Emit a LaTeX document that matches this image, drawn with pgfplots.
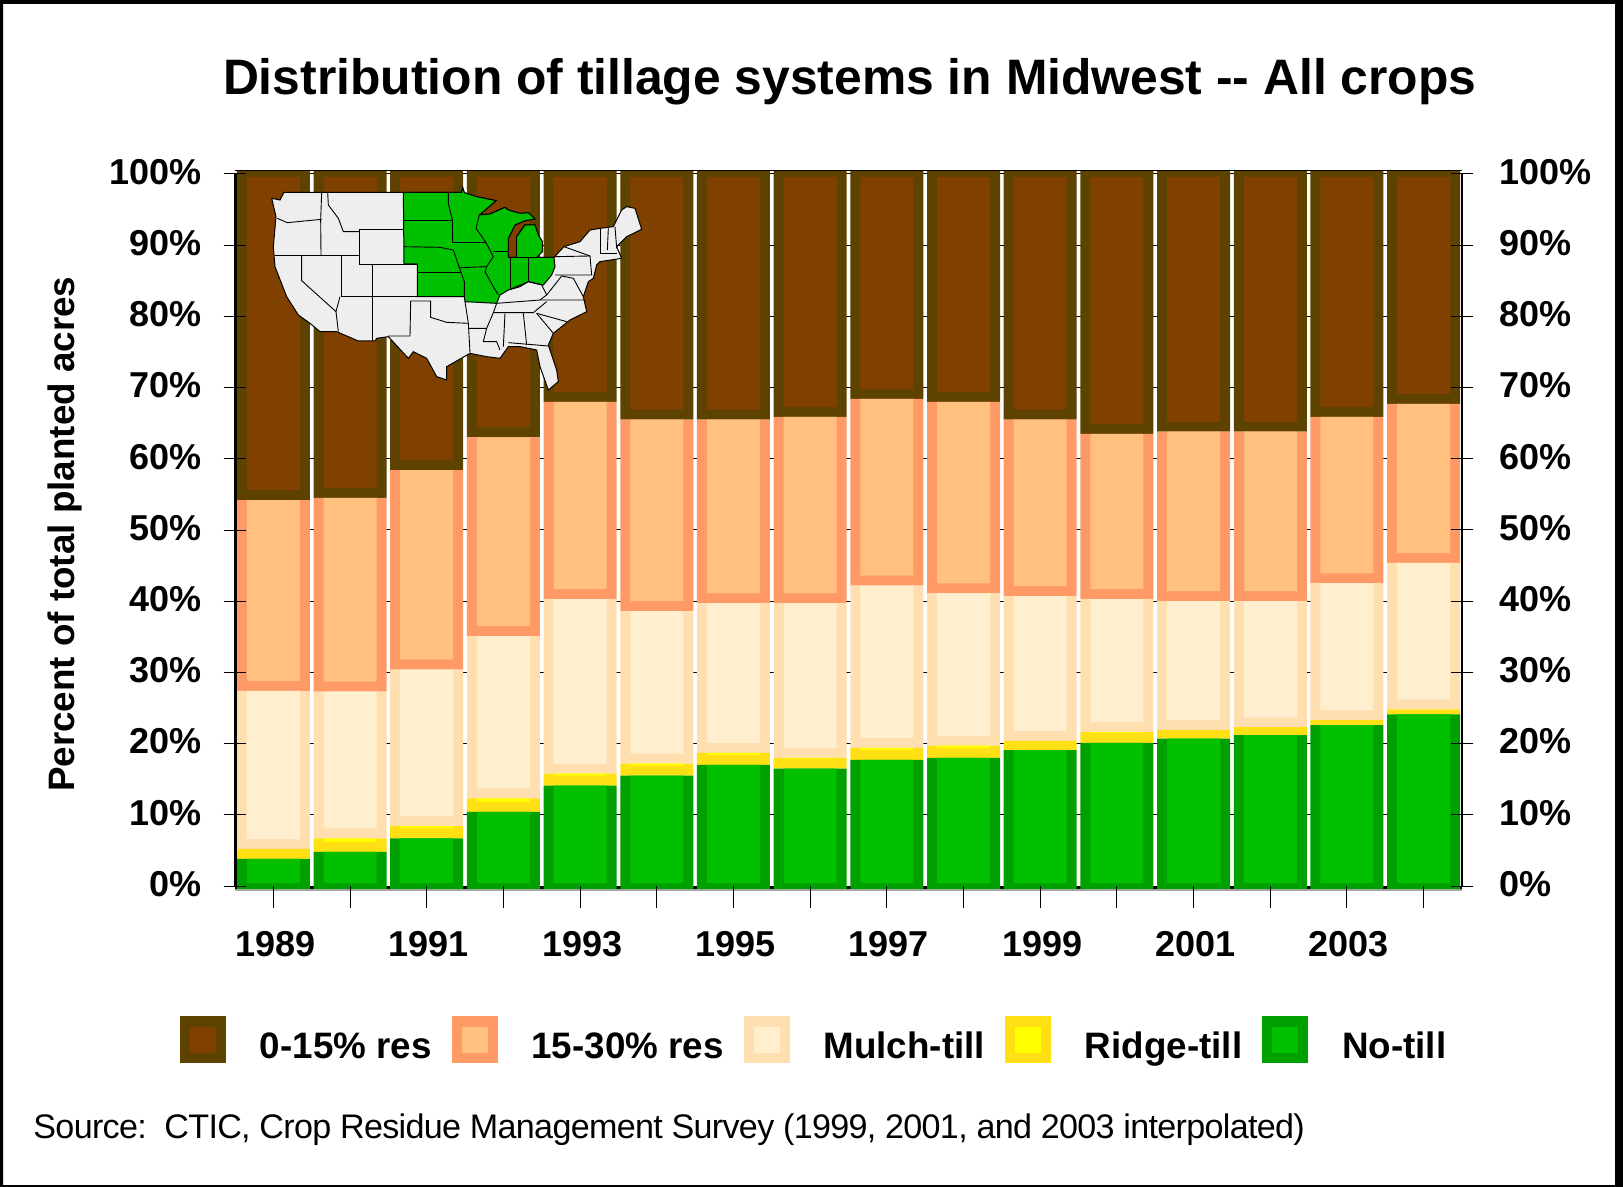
\documentclass[border=0pt]{standalone}
\usepackage{fontspec}
\setmainfont{Liberation Sans}
\usepackage{pgfplots}
\usepackage{pgfplotstable}
\pgfplotsset{compat=1.18}

% 1 reference pixel = 0.5pt
\definecolor{brownD}{HTML}{5E4200}
\definecolor{brownL}{HTML}{804000}
\definecolor{peachD}{HTML}{FF9966}
\definecolor{peachL}{HTML}{FFC080}
\definecolor{mulchD}{HTML}{FFDFAF}
\definecolor{mulchL}{HTML}{FFEFCF}
\definecolor{yellD}{HTML}{FFE014}
\definecolor{yellL}{HTML}{FFFF00}
\definecolor{greenD}{HTML}{00A000}
\definecolor{greenL}{HTML}{00C000}
\definecolor{mapgray}{HTML}{EEEEEE}

\pgfplotstableread{
year nt rt mt pe br
1989 3.8 1.4 22.2 26.8 45.8
1990 4.8 1.9 20.6 27.2 45.5
1991 6.7 1.7 22.0 28.0 41.6
1992 10.4 1.9 22.8 27.9 37.0
1993 14.1 1.7 24.5 27.7 32.0
1994 15.5 1.7 21.4 26.9 34.5
1995 17.0 1.7 21.0 25.8 34.5
1996 16.5 1.5 21.7 26.2 34.1
1997 17.7 1.7 22.8 26.2 31.6
1998 18.0 1.7 21.4 26.9 32.0
1999 19.1 1.3 20.3 24.8 34.5
2000 20.1 1.5 18.7 23.2 36.5
2001 20.7 1.2 18.1 23.8 36.2
2002 21.2 1.1 17.7 23.8 36.2
2003 22.6 0.7 19.2 23.4 34.1
2004 24.1 0.7 20.6 22.3 32.3
}\tillage

\pgfplotsset{
  plotbox/.style={
    at={(117.5pt,-443pt)}, anchor=south west,
    scale only axis, width=613.5pt, height=356pt,
    xmin=1988.5, xmax=2004.5, ymin=0, ymax=100, clip=false,
  },
  bare/.style={plotbox, axis line style={draw=none}, xtick=\empty,
    ytick=\empty},
  outer/.style={fill=#1, draw=none, forget plot},
  hole/.style={fill=none, draw=none, forget plot},
  swatch/.style 2 args={legend image code/.code={
    \fill[#1] (0pt,-8pt) rectangle (22.5pt,15pt);
    \fill[#2] (5pt,-2.75pt) rectangle (17.5pt,9.75pt);}},
}
\newcommand{\ml}[1]{\addplot[black, line width=0.45pt] coordinates {#1};}

\begin{document}
\begin{tikzpicture}
\fill[black, even odd rule] (0pt,0pt) rectangle (811.5pt,-593.5pt)
  (1.5pt,-2pt) rectangle (807.5pt,-592.5pt);

% shadow under the bottom axis
\draw[gray!70, line width=1pt] (117.5pt,-445pt) -- (731pt,-445pt);
\draw[black, line width=1.5pt] (117.5pt,-443.5pt) -- (731pt,-443.5pt);
\draw[black, line width=0.5pt] (117.5pt,-85.5pt) -- (731pt,-85.5pt);

% grid behind the bars, and the foot of the bars below zero
\begin{axis}[plotbox, axis line style={draw=none}, xtick=\empty,
    ytick={0,10,...,100}, yticklabels={}, major tick length=0pt,
    ymajorgrids, grid style={black, line width=0.5pt},
    ybar, bar shift=0pt, bar width=36.5pt]
  \addplot[outer=greenD] table[x=year, y expr=-0.4] {\tillage};
\end{axis}

% full width bars in the darker colour of each series
\begin{axis}[bare, ybar stacked, bar width=36.5pt]
  \addplot[outer=greenD] table[x=year, y=nt] {\tillage};
  \addplot[outer=yellD]  table[x=year, y=rt] {\tillage};
  \addplot[outer=mulchD] table[x=year, y=mt] {\tillage};
  \addplot[outer=peachD] table[x=year, y=pe] {\tillage};
  \addplot[outer=brownD] table[x=year, y expr=\thisrow{br}+0.4] {\tillage};
\end{axis}

% narrower bars in the lighter colour, with empty bars for the bottom bands
\begin{axis}[bare, ybar stacked, bar width=26.5pt]
  \addplot[hole] table[x=year, y expr=0.42] {\tillage};
  \addplot[outer=greenL] table[x=year, y expr=\thisrow{nt}-0.42] {\tillage};
  \addplot[hole] table[x=year, y expr={min(\thisrow{rt},1.4)}] {\tillage};
  \addplot[outer=yellL] table[x=year, y expr={\thisrow{rt}-min(\thisrow{rt},1.4)}] {\tillage};
  \addplot[hole] table[x=year, y expr=1.4] {\tillage};
  \addplot[outer=mulchL] table[x=year, y expr=\thisrow{mt}-1.4] {\tillage};
  \addplot[hole] table[x=year, y expr=1.4] {\tillage};
  \addplot[outer=peachL] table[x=year, y expr=\thisrow{pe}-1.4] {\tillage};
  \addplot[hole] table[x=year, y expr=1.4] {\tillage};
  \addplot[outer=brownL] table[x=year, y expr=\thisrow{br}-1.82] {\tillage};
\end{axis}

% inset map, coordinates in pixels of a 460x300 window of the reference
\begin{axis}[at={(100pt,-75pt)}, anchor=north west, scale only axis,
    width=230pt, height=150pt, xmin=0, xmax=1380, ymin=0, ymax=900,
    y dir=reverse, hide axis, clip=false]
  \addplot[fill=mapgray, draw=black, line width=0.5pt] coordinates {
    (215,145)(240,150)(252,127)(610,127)(745,127)(785,127)(788,113)(793,128)
    (830,140)(888,152)(850,185)(838,195)(870,192)(915,172)(925,180)(960,190)
    (985,188)(1005,207)(975,212)(945,225)(925,265)(925,322)(950,322)(950,260)
    (975,225)(1005,225)(1015,255)(1027,275)(1027,305)(1010,322)(1062,322)
    (1092,290)(1140,275)(1170,240)(1200,235)(1240,230)(1265,180)(1280,170)
    (1305,175)(1325,238)(1280,260)(1250,290)(1265,325)(1200,335)(1190,345)
    (1180,385)(1165,395)(1150,440)(1160,485)(1110,510)(1060,550)(1045,585)
    (1070,660)(1075,695)(1045,720)(1020,650)(1010,600)(960,590)(925,590)
    (900,625)(860,620)(810,610)(775,630)(740,650)(740,690)(710,680)(680,625)
    (640,605)(625,625)(565,560)(530,565)(525,573)(475,573)(410,545)(360,545)
    (330,520)(295,495)(260,440)(225,350)(220,290)(228,200)(215,145)};
  \addplot[fill=greenL, draw=black, line width=0.5pt] coordinates {
    (610,127)(785,127)(788,113)(793,128)(830,140)(888,152)(850,185)(838,195)
    (870,192)(915,172)(925,180)(960,190)(985,188)(1005,207)(975,212)(945,225)
    (925,265)(925,322)(950,322)(950,260)(975,225)(1005,225)(1015,255)(1027,275)
    (1027,305)(1010,322)(1062,322)(1065,350)(1055,375)(1030,405)(985,395)
    (960,410)(925,420)(900,435)(890,460)(795,455)(793,440)(652,440)(652,342)
    (612,342)(610,127)};
  % midwest states
  \ml{(612,212)(755,212)}
  \ml{(612,290)(720,292)(760,300)}
  \ml{(652,367)(785,367)}
  \ml{(745,127)(745,160)(757,210)(758,278)}
  \ml{(758,278)(858,278)}
  \ml{(778,353)(860,350)}
  \ml{(760,300)(778,353)(793,395)(793,440)}
  \ml{(860,350)(855,365)(880,410)(895,435)}
  \ml{(880,303)(925,303)}
  \ml{(858,278)(880,320)(860,350)}
  \ml{(858,278)(828,235)(838,195)}
  \ml{(932,322)(932,415)}
  \ml{(985,325)(985,395)}
  \ml{(932,322)(1062,322)}
  % west
  \ml{(232,205)(262,218)(365,208)}
  \ml{(365,127)(362,210)(363,315)}
  \ml{(225,315)(478,315)}
  \ml{(383,127)(385,165)(415,205)(430,245)(478,245)}
  \ml{(478,237)(610,237)}
  \ml{(478,237)(478,342)(652,342)}
  \ml{(305,316)(305,392)(408,485)(420,440)}
  \ml{(423,316)(423,440)(652,440)}
  \ml{(518,342)(518,573)}
  \ml{(408,485)(415,545)}
  \ml{(632,453)(630,558)(565,558)}
  \ml{(632,453)(692,453)(692,502)(740,517)(805,520)(795,455)}
  % south and east
  \ml{(805,520)(810,608)}
  \ml{(805,535)(860,535)(880,488)(890,460)}
  \ml{(860,535)(850,575)(890,575)(900,600)}
  \ml{(915,490)(910,590)}
  \ml{(880,488)(1000,488)(1040,455)}
  \ml{(890,460)(1020,450)(1155,450)}
  \ml{(970,490)(980,585)}
  \ml{(925,578)(1045,588)}
  \ml{(1010,490)(1060,550)}
  \ml{(1010,490)(1100,515)}
  \ml{(925,420)(985,395)(1025,405)(1040,435)(1020,450)}
  \ml{(1040,435)(1085,378)(1120,385)(1150,440)}
  \ml{(1065,320)(1170,318)(1175,375)(1065,375)}
  \ml{(1092,290)(1170,318)}
  \ml{(1200,235)(1200,310)(1250,310)}
  \ml{(1225,235)(1222,300)}
  \ml{(1245,230)(1250,295)}
\end{axis}

% left axis, ticks, labels and legend on top of everything
\begin{axis}[plotbox,
    axis x line*=bottom, axis y line*=left,
    x axis line style={draw=none},
    y axis line style={black, line width=1.5pt, -},
    xtick={1989,...,2004},
    xticklabels={1989,,1991,,1993,,1995,,1997,,1999,,2001,,2003,},
    ytick={0,10,...,100},
    yticklabels={0\%,10\%,20\%,30\%,40\%,50\%,60\%,70\%,80\%,90\%,100\%},
    x tick style={black, line width=0.5pt, /pgfplots/major tick length=11pt},
    y tick style={black, line width=0.5pt, /pgfplots/major tick length=11.5pt},
    xtick align=outside, ytick align=center,
    tick label style={font=\fontsize{18}{20}\selectfont\bfseries},
    xticklabel style={yshift=-15pt, xshift=1pt},
    yticklabel style={xshift=-11pt, yshift=1pt},
    ylabel={Percent of total planted acres},
    every axis y label/.style={at={(axis description cs:-0.1385,0.494)},
      rotate=90, anchor=center, font=\fontsize{18.4}{20}\selectfont\bfseries},
    title={Distribution of tillage systems in Midwest -{}- All crops},
    every axis title/.style={at={(axis description cs:0.501,1.129)},
      anchor=center, font=\fontsize{24.9}{28}\selectfont\bfseries},
    legend columns=5,
    legend cell align=left,
    legend style={at={(axis description cs:-0.0448,-0.2159)}, anchor=west,
      draw=none, fill=none, inner sep=0pt, outer sep=0pt,
      font=\fontsize{18.4}{20}\selectfont\bfseries,
      /tikz/every odd column/.append style={column sep=17pt},
      /tikz/every even column/.append style={column sep=10pt},
      nodes={inner sep=0pt}},
  ]
  \addlegendimage{swatch={brownD}{brownL}}
  \addlegendentry{0-15\% res}
  \addlegendimage{swatch={peachD}{peachL}}
  \addlegendentry{15-30\% res}
  \addlegendimage{swatch={mulchD}{mulchL}}
  \addlegendentry{Mulch-till}
  \addlegendimage{swatch={yellD}{yellL}}
  \addlegendentry{Ridge-till}
  \addlegendimage{swatch={greenD}{greenL}}
  \addlegendentry{No-till}
\end{axis}

% right axis
\begin{axis}[plotbox,
    axis x line=none, axis y line*=right,
    y axis line style={black, line width=1pt, -},
    ytick={0,10,...,100},
    yticklabels={0\%,10\%,20\%,30\%,40\%,50\%,60\%,70\%,80\%,90\%,100\%},
    y tick style={black, line width=0.5pt, /pgfplots/major tick length=11.5pt},
    ytick align=center,
    yticklabel style={font=\fontsize{18}{20}\selectfont\bfseries, xshift=13pt,
      yshift=1pt, anchor=west},
  ]
\end{axis}

\node[anchor=base west, inner sep=0pt,
  font=\fontsize{17.05}{20}\selectfont] at (16.5pt,-569pt)
  {\addfontfeatures{LetterSpace=-2}Source:~~CTIC, Crop Residue Management Survey (1999, 2001, and 2003 interpolated)};
\end{tikzpicture}
\end{document}
